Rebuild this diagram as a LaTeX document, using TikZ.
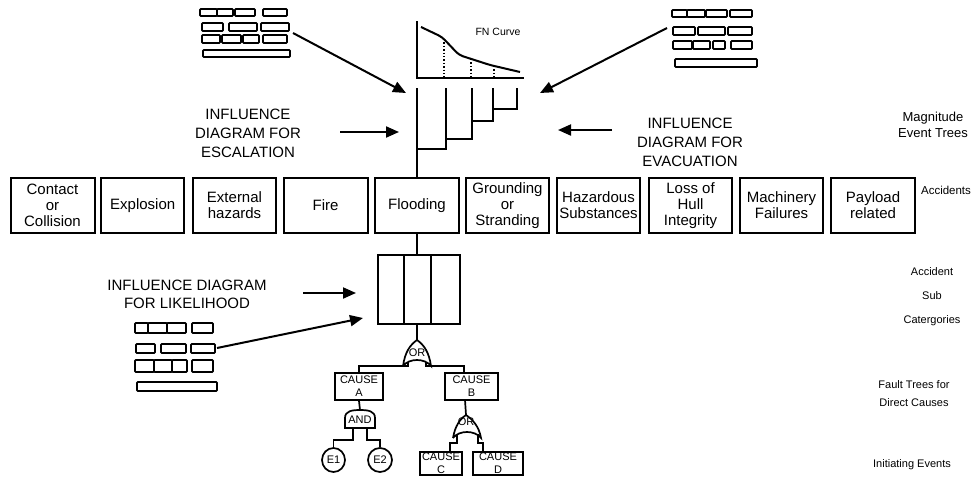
\documentclass[tikz,border=0pt]{standalone}
\usepackage{fontspec}
\setmainfont{Liberation Sans}
\usetikzlibrary{calc,arrows.meta,shapes.geometric}
\begin{document}
\begin{tikzpicture}[x=1pt,y=-1pt,
  thick line/.style={line width=2pt},
  acc/.style={draw,line width=2pt,minimum height=55pt,inner sep=1pt,align=center,
              font=\fontsize{15}{16}\selectfont},
  cause/.style={draw,line width=1.7pt,inner sep=0pt,align=center,
              font=\fontsize{11}{13}\selectfont},
  brick/.style={draw,line width=1.7pt,rounded corners=0.8pt},
  bigarrow/.style={line width=2pt,-{Triangle[length=13pt,width=11pt]}},
  label/.style={align=center,inner sep=0pt},
  wire/.style={line width=1.7pt}]
\useasboundingbox (0,0) rectangle (974,482);

% ---------- accident categories ----------
\node[acc,minimum width=84pt] (a1) at (52.5,205.5) {Contact\\or\\Collision};
\node[acc,minimum width=83.5pt] (a2) at (142.7,205.5) {Explosion};
\node[acc,minimum width=83pt] (a3) at (234.5,205.5) {External\\hazards};
\node[acc,minimum width=84pt] (a4) at (325.6,205.5) {Fire};
\node[acc,minimum width=84pt] (a5) at (417,205.5) {Flooding};
\node[acc,minimum width=83pt] (a6) at (507.5,205.5) {Grounding\\or\\Stranding};
\node[acc,minimum width=83pt] (a7) at (598.5,205.5) {Hazardous\\Substances};
\node[acc,minimum width=83pt] (a8) at (690.5,205.5) {Loss of\\Hull\\Integrity};
\node[acc,minimum width=83pt] (a9) at (781.5,205.5) {Machinery\\Failures};
\node[acc,minimum width=84pt] (a10) at (873,205.5) {Payload\\related};

% ---------- magnitude event tree ----------
\coordinate (t0) at (417,88);
\draw[thick line] (t0) -- (a5.north);
\coordinate (b1) at (417,149); \coordinate (e1) at (446,88);
\coordinate (b2) at (446,139); \coordinate (e2) at (472,88);
\coordinate (b3) at (472,121); \coordinate (e3) at (493,88);
\coordinate (b4) at (493,109); \coordinate (e4) at (517,88);
\draw[thick line] (b1) -| (e1);
\draw[thick line] (b2) -| (e2);
\draw[thick line] (b3) -| (e3);
\draw[thick line] (b4) -| (e4);

% ---------- FN curve ----------
\coordinate (fnTop) at (417,21);
\coordinate (fnEnd) at (524,78);
\draw[thick line] (fnTop) |- (fnEnd);
\draw[thick line,rounded corners=4pt] (421,27) -- (442,37) -- (459,55) -- (490,65) -- (520,72);
\draw[line width=1.4pt,dotted] (444,39) -- (444,78);
\draw[line width=1.4pt,dotted] (471,59) -- (471,78);
\draw[line width=1.4pt,dotted] (494,66) -- (494,78);
\node[label,font=\fontsize{10.5}{12}\selectfont] (fn) at (498,32) {FN Curve};

% ---------- influence diagram icons ----------
% upper left
\draw[brick] (200,9) rectangle (217,16) (217,9) rectangle (233,16)
             (235,9) rectangle (255,16) (263,9) rectangle (287,16);
\draw[brick] (202,23) rectangle (223,31) (229,23) rectangle (257,31) (261,23) rectangle (289,31);
\draw[brick] (202,35) rectangle (220,43) (222,35) rectangle (241,43)
             (243,35) rectangle (259,43) (263,35) rectangle (287,43);
\draw[brick] (203,50) rectangle (290,57);
% upper right
\draw[brick] (672,10) rectangle (687,17) (687,10) rectangle (705,17)
             (706,10) rectangle (727,17) (730,10) rectangle (752,17);
\draw[brick] (673,27) rectangle (695,35) (698,27) rectangle (725,35) (728,27) rectangle (752,35);
\draw[brick] (673,41) rectangle (692,49) (693,41) rectangle (710,49)
             (713,41) rectangle (725,49) (731,41) rectangle (752,49);
\draw[brick] (675,59) rectangle (757,67);
% lower left
\draw[brick] (135,323) rectangle (148,333) (148,323) rectangle (167,333)
             (167,323) rectangle (186,333) (192,323) rectangle (213,333);
\draw[brick] (136,344) rectangle (155,353) (161,344) rectangle (186,353) (191,344) rectangle (215,353);
\draw[brick] (135,360) rectangle (154,372) (154,360) rectangle (172,372)
             (172,360) rectangle (187,372) (192,360) rectangle (213,372);
\draw[brick] (137,382) rectangle (217,391);

% ---------- influence arrows ----------
\coordinate (i1s) at (293,33);  \coordinate (i1e) at (406,93);
\coordinate (i2s) at (667,28);  \coordinate (i2e) at (540,93);
\coordinate (i3s) at (340,132); \coordinate (i3e) at (399,132);
\coordinate (i4s) at (612,130); \coordinate (i4e) at (558,130);
\coordinate (i5s) at (303,293); \coordinate (i5e) at (356,293);
\coordinate (i6s) at (217,348); \coordinate (i6e) at (363,318);
\draw[bigarrow] (i1s) -- (i1e);
\draw[bigarrow] (i2s) -- (i2e);
\draw[bigarrow] (i3s) -- (i3e);
\draw[bigarrow] (i4s) -- (i4e);
\draw[bigarrow] (i5s) -- (i5e);
\draw[bigarrow] (i6s) -- (i6e);

\node[label,font=\fontsize{15}{19}\selectfont] (esc) at (248,133) {INFLUENCE\\DIAGRAM FOR\\ESCALATION};
\node[label,font=\fontsize{15}{19}\selectfont] (evac) at (690,142) {INFLUENCE\\DIAGRAM FOR\\EVACUATION};
\node[label,font=\fontsize{15}{18}\selectfont] (lik) at (187,294) {INFLUENCE DIAGRAM\\FOR LIKELIHOOD};

% ---------- accident sub categories ----------
\node[draw,line width=2pt,minimum width=82pt,minimum height=69pt,inner sep=0pt] (sub) at (419,289.5) {};
\draw[thick line] ($(sub.north west)+(27,0)$) -- ($(sub.south west)+(27,0)$);
\draw[thick line] ($(sub.north west)+(54,0)$) -- ($(sub.south west)+(54,0)$);
\coordinate (subTop) at (417,255);
\coordinate (subBot) at (417,324);
\draw[thick line] (a5.south) -- (subTop);

% ---------- top OR gate ----------
\coordinate (g1top) at (417,340);
\coordinate (g1L) at (408,362);
\coordinate (g1R) at (426,362);
\draw[wire,fill=white] (403,366) .. controls (405,352) and (410,345) .. (g1top)
      .. controls (424,345) and (429,352) .. (431,366)
      .. controls (425,358) and (409,358) .. (403,366);
\node[label,font=\fontsize{11}{12}\selectfont] (or1) at (417,353) {OR};
\draw[wire] (subBot) -- (g1top);

% ---------- direct causes ----------
\node[cause,minimum width=48pt,minimum height=27pt] (cA) at (359,386.5) {CAUSE\\A};
\node[cause,minimum width=53pt,minimum height=27pt] (cB) at (471.5,386.5) {CAUSE\\B};
\coordinate (cBin) at (464,373);
\coordinate (cBout) at (465,400);
\draw[wire] (g1L) |- ++(-10,4) -| (cA.north);
\draw[wire] (g1R) -- ++(0,4) -| (cBin);

% AND gate under cause A
\coordinate (andTop) at (360,410);
\coordinate (andL) at (353,428);
\coordinate (andR) at (367,428);
\draw[wire] (345,428) -- (345,418) .. controls (345,411) and (352,410) .. (andTop)
      .. controls (368,410) and (375,411) .. (375,418) -- (375,428) -- cycle;
\node[label,font=\fontsize{11}{12}\selectfont] (and) at (360,420) {AND};
\draw[wire] (cA.south) -- (andTop);

% initiating events E1, E2
\node[draw,line width=1.7pt,ellipse,minimum width=23pt,minimum height=24pt,inner sep=0pt,
      font=\fontsize{11}{12}\selectfont] (E1) at (333.5,460) {E1};
\node[draw,line width=1.7pt,ellipse,minimum width=24pt,minimum height=24pt,inner sep=0pt,
      font=\fontsize{11}{12}\selectfont] (E2) at (380,460) {E2};
\draw[wire] (andL) |- ++(-10,12) -| (E1.north);
\draw[wire] (andR) -- ++(0,12) -| (E2.north);

% OR gate under cause B
\coordinate (g2top) at (466,415);
\coordinate (g2L) at (457,434);
\coordinate (g2R) at (478,434);
\draw[wire,fill=white] (453,438) .. controls (455,426) and (460,419) .. (g2top)
      .. controls (472,419) and (479,426) .. (481,438)
      .. controls (475,430) and (459,430) .. (453,438);
\node[label,font=\fontsize{11}{12}\selectfont] (or2) at (466,422) {OR};
\draw[wire] (cBout) -- (g2top);

\node[cause,minimum width=42pt,minimum height=23pt] (cC) at (441,463.5) {CAUSE\\C};
\node[cause,minimum width=50pt,minimum height=23pt] (cD) at (498,463.5) {CAUSE\\D};
\coordinate (cCin) at (450,452);
\coordinate (cDin) at (483,452);
\draw[wire] (g2L) -- ++(0,9) -| (cCin);
\draw[wire] (g2R) -- ++(0,9) -| (cDin);

% ---------- level labels ----------
\node[label,font=\fontsize{13}{16}\selectfont] (lv1) at (933,125) {Magnitude\\Event Trees};
\node[label,font=\fontsize{11.5}{13}\selectfont] (lv2) at (946,190) {Accidents};
\node[label,font=\fontsize{11}{24}\selectfont] (lv3) at (932,297) {Accident\\Sub\\Catergories};
\node[label,font=\fontsize{11}{18}\selectfont] (lv4) at (914,394) {Fault Trees for\\Direct Causes};
\node[label,font=\fontsize{11}{13}\selectfont] (lv5) at (912,465) {Initiating Events};
\end{tikzpicture}
\end{document}
